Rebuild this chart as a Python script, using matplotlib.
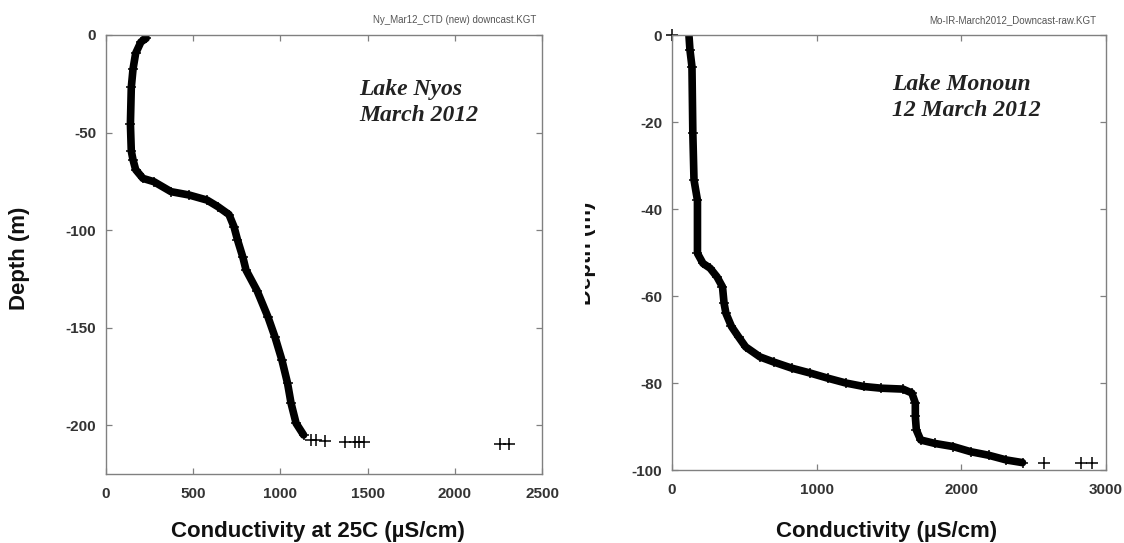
import matplotlib
matplotlib.use("Agg")
import matplotlib.pyplot as plt
from matplotlib.transforms import Bbox

W, H = 1124, 543

# Lake Nyos profile (conductivity at 25C, depth)
nyos_cond = [224, 230, 200, 170, 155, 145, 140, 145, 155, 170, 212, 275, 373, 476,
             579, 642, 705, 734, 754, 785, 803, 866, 929, 969, 1009, 1041, 1061,
             1090, 1133]
nyos_depth = [0, -1.7, -3.6, -9.4, -17.4, -26.9, -45.5, -59.5, -64, -69, -73.5,
              -75.2, -80.3, -82, -84.6, -88, -92, -98.3, -105, -114, -120.5, -131,
              -144.6, -154.8, -166.7, -178.5, -188.7, -199, -205]
nyos_out_cond = [1174, 1204, 1256, 1368, 1426, 1450, 1480, 2260, 2311]
nyos_out_depth = [-207.7, -207.7, -208, -208.5, -208.5, -208.7, -208.7, -209.7, -209.7]

# Lake Monoun profile
mono_cond = [117, 124, 138, 144, 152, 176, 176, 214, 263, 311, 349, 360, 373, 411,
             460, 509, 608, 705, 829, 954, 1078, 1201, 1324, 1448, 1596, 1658,
             1682, 1682, 1689, 1719, 1818, 1942, 2065, 2188, 2312, 2423]
mono_depth = [0, -3.4, -7.3, -22.6, -33.3, -38, -50.2, -52.5, -53.6, -55.6, -57.9,
              -61.7, -64, -67, -69.4, -71.7, -74, -75.2, -76.6, -77.7, -78.9, -80,
              -80.8, -81.2, -81.4, -82.3, -84.6, -87.7, -90.8, -93.1, -93.9, -94.6,
              -95.8, -96.6, -97.7, -98.3]
mono_out_cond = [0, 2572, 2828, 2904]
mono_out_depth = [0, -98.4, -98.4, -98.4]

nyos_xticks = [0, 500, 1000, 1500, 2000, 2500]
nyos_yticks = [0, -50, -100, -150, -200]
mono_xticks = [0, 1000, 2000, 3000]
mono_yticks = [0, -20, -40, -60, -80, -100]

plt.rcParams['font.family'] = ['Liberation Sans', 'DejaVu Sans']
plt.rcParams['axes.unicode_minus'] = False

fig = plt.figure(figsize=(W / 100, H / 100), dpi=100)


def px_axes(x0, y0, x1, y1):
    return fig.add_axes([x0 / W, 1 - y1 / H, (x1 - x0) / W, (y1 - y0) / H])


def style(ax, xticks, yticks, xlim, ylim):
    ax.set_xlim(*xlim)
    ax.set_ylim(*ylim)
    ax.set_xticks(xticks)
    ax.set_yticks(yticks)
    for s in ax.spines.values():
        s.set_color('#808080')
        s.set_linewidth(1.0)
    ax.tick_params(direction='in', length=4, width=0.9, color='#808080',
                   top=True, right=True, labelsize=11, labelcolor='#333333')
    ax.tick_params(axis='x', pad=9)
    ax.tick_params(axis='y', pad=7)
    for lab in ax.get_xticklabels() + ax.get_yticklabels():
        lab.set_fontweight('bold')


def profile(ax, x, y, ox, oy):
    ax.plot(x, y, color='k', lw=5.5, marker='+', ms=7, mew=1.1,
            solid_capstyle='round', solid_joinstyle='round')
    ax.plot(ox, oy, '+', color='k', ms=8, mew=1.1, ls='none', clip_on=False)


ax1 = px_axes(106, 35, 542, 474)
profile(ax1, nyos_cond, nyos_depth, nyos_out_cond, nyos_out_depth)
style(ax1, nyos_xticks, nyos_yticks, (0, 2500), (-225, 0))

ax2 = px_axes(672, 35, 1106, 470)
profile(ax2, mono_cond, mono_depth, mono_out_cond, mono_out_depth)
style(ax2, mono_xticks, mono_yticks, (0, 3000), (-100, 0))


def ftext(x, y, s, **kw):
    return fig.text(x / W, 1 - y / H, s, **kw)


# axis labels
lab = dict(ha='center', va='center', fontsize=16, fontweight='bold', color='#111111')
ftext(318, 532, "Conductivity at 25C (\u00b5S/cm)", **lab)
ftext(887, 532, "Conductivity (\u00b5S/cm)", **lab)
ftext(20, 258, "Depth (m)", rotation=90, **lab)
cut = ftext(586, 253, "Depth (m)", rotation=90, **lab)
cut.set_clip_box(Bbox([[585, 0], [W, H]]))
cut.set_clip_on(True)

# file names
ftext(536, 20, "Ny_Mar12_CTD (new) downcast.KGT", ha='right', va='center',
      fontsize=7, color='#555555')
ftext(1096, 20, "Mo-IR-March2012_Downcast-raw.KGT", ha='right', va='center',
      fontsize=7, color='#555555')

# lake annotations
ann = dict(ha='left', va='baseline', fontsize=17, fontweight='bold',
           fontstyle='italic', family='Liberation Serif', color='#222222')
ftext(359, 95, "Lake Nyos", **ann)
ftext(359, 121, "March 2012", **ann)
ftext(892, 90, "Lake Monoun", **ann)
ftext(892, 116, "12 March 2012", **ann)

fig.savefig("out.png", dpi=100)
